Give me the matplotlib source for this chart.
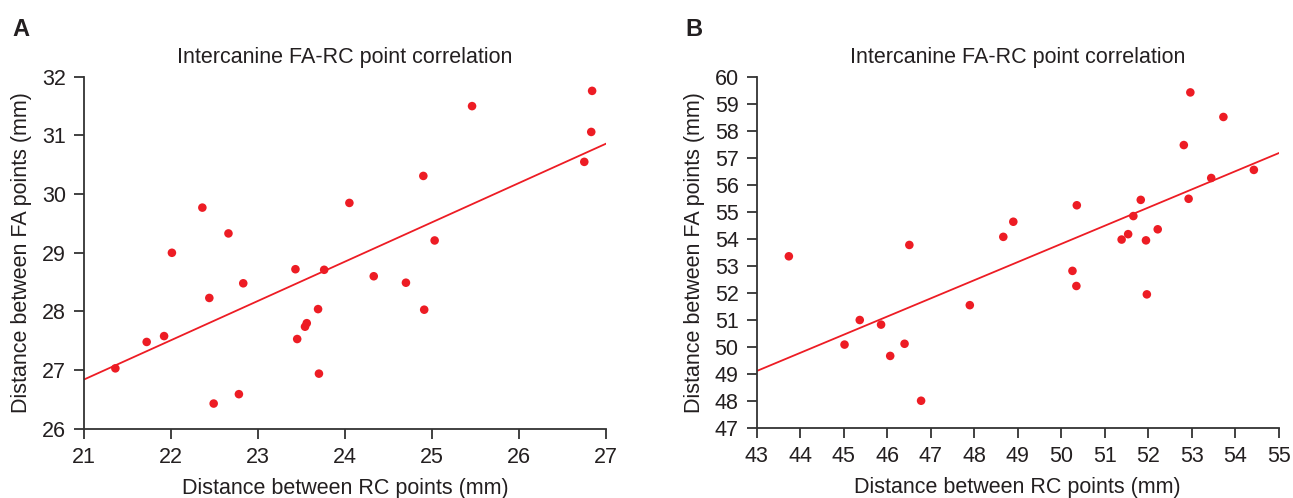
import matplotlib
matplotlib.use("Agg")
import matplotlib.pyplot as plt
import numpy as np

plt.rcParams['font.family'] = ['Liberation Sans', 'DejaVu Sans']

RED = "#ed1c24"
INK = "#231f20"

# panel A: intercanine distances (mm)
rc_a = [25.46, 26.84, 26.83, 26.75, 24.90, 24.05, 22.36, 22.66, 22.01,
        25.03, 22.83, 23.43, 23.76, 24.33, 24.70, 22.44, 23.69, 24.91,
        21.92, 21.72, 23.56, 23.54, 23.45, 21.36, 23.70, 22.78, 22.49]
fa_a = [31.50, 31.76, 31.06, 30.55, 30.31, 29.85, 29.77, 29.33, 29.00,
        29.21, 28.48, 28.72, 28.71, 28.60, 28.49, 28.23, 28.04, 28.03,
        27.58, 27.48, 27.80, 27.74, 27.53, 27.03, 26.94, 26.59, 26.43]
line_a = [26.84, 30.86]   # fitted values at x = 21 and x = 27

# panel B
rc_b = [43.74, 46.51, 48.90, 48.67, 47.90, 45.37, 45.86, 45.02, 46.40,
        46.07, 46.78, 52.97, 53.73, 52.82, 53.45, 54.43, 52.93, 51.83,
        50.36, 51.66, 52.22, 51.54, 51.39, 51.95, 50.26, 50.35, 51.97]
fa_b = [53.37, 53.79, 54.65, 54.09, 51.56, 51.01, 50.84, 50.10, 50.13,
        49.68, 48.02, 59.44, 58.53, 57.49, 56.27, 56.57, 55.50, 55.46,
        55.26, 54.86, 54.37, 54.19, 53.99, 53.96, 52.83, 52.27, 51.96]
line_b = [49.12, 57.19]   # fitted values at x = 43 and x = 55

title = "Intercanine FA-RC point correlation"
xlabel = "Distance between RC points (mm)"
ylabel = "Distance between FA points (mm)"
FS = 15.5


def draw(ax, x, y, xlim, ylim, fit):
    ax.plot(xlim, fit, color=RED, lw=1.3, zorder=2)
    ax.scatter(x, y, s=38, color=RED, edgecolors="none", zorder=3,
               clip_on=False)
    ax.set_xlim(xlim)
    ax.set_ylim(ylim)
    ax.set_xticks(np.arange(xlim[0], xlim[1] + 1, 1))
    ax.set_yticks(np.arange(ylim[0], ylim[1] + 1, 1))
    for s in ("top", "right"):
        ax.spines[s].set_visible(False)
    for s in ("left", "bottom"):
        ax.spines[s].set_color("#333333")
        ax.spines[s].set_linewidth(1.3)
    ax.tick_params(direction="out", length=7, width=1.3, color="#333333",
                   labelsize=FS, labelcolor=INK, pad=6)
    ax.set_title(title, fontsize=FS, color=INK, pad=10)
    ax.set_xlabel(xlabel, fontsize=FS, color=INK, labelpad=7)
    ax.set_ylabel(ylabel, fontsize=FS, color=INK, labelpad=7)
    return ax


fig = plt.figure(figsize=(12.93, 4.98), dpi=100)
ax1 = fig.add_axes([0.065, 0.139, 0.4037, 0.7068])
ax2 = fig.add_axes([0.5852, 0.140, 0.4037, 0.7048])

draw(ax1, rc_a, fa_a, [21, 27], [26, 32], line_a)
draw(ax2, rc_b, fa_b, [43, 55], [47, 60], line_b)

fig.text(12 / 1293, 1 - 30 / 498, "A", fontsize=17, fontweight="bold",
         color=INK, va="center")
fig.text(685 / 1293, 1 - 30 / 498, "B", fontsize=17, fontweight="bold",
         color=INK, va="center")

fig.savefig("out.png", dpi=100)
